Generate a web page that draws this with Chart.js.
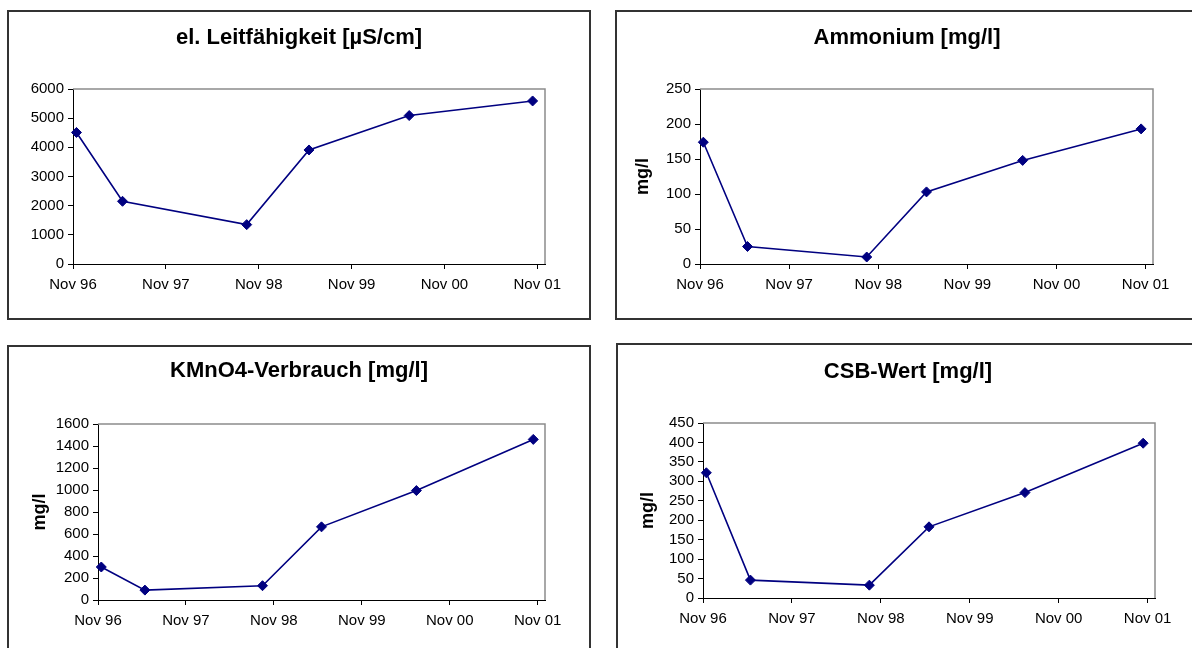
<!DOCTYPE html>
<html>
<head>
<meta charset="utf-8">
<script src="https://cdn.jsdelivr.net/npm/chart.js@4"></script>
<style>
  body { margin: 0; background: #fff; width: 1192px; height: 648px; overflow: hidden; position: relative; }
  .panel { position: absolute; border: 2px solid #333; background: #fff; }
  .panel canvas { display: block; }
</style>
</head>
<body>
<div class="panel" style="left:7px;top:10px;width:580px;height:306px"><canvas id="leitChart" width="580" height="306"></canvas></div>
<div class="panel" style="left:615px;top:10px;width:580px;height:306px"><canvas id="ammChart" width="580" height="306"></canvas></div>
<div class="panel" style="left:7px;top:345px;width:580px;height:310px"><canvas id="kmnChart" width="580" height="310"></canvas></div>
<div class="panel" style="left:616px;top:343px;width:580px;height:310px"><canvas id="csbChart" width="580" height="310"></canvas></div>
<script>
// months since Nov 1996
const sampleMonths = [0.45, 6.4, 22.45, 30.5, 43.45, 59.4];
const yearTicks = [0, 12, 24, 36, 48, 60];
const yearLabels = ['Nov 96', 'Nov 97', 'Nov 98', 'Nov 99', 'Nov 00', 'Nov 01'];

const leitfaehigkeit = [4510, 2150, 1350, 3910, 5090, 5590];
const ammonium = [174, 25, 10, 103, 148, 193];
const kmno4 = [300, 90, 130, 665, 995, 1460];
const csb = [322, 46, 33, 183, 271, 398];

const FONT = 'Arial, "Liberation Sans", sans-serif';
const NAVY = '#000080';

// gray frame on top and right of the plot area (Excel style)
const plotFrame = {
    id: 'plotFrame',
    beforeDatasetsDraw(chart) {
        const { ctx, chartArea: a } = chart;
        ctx.save();
        ctx.strokeStyle = '#8c8c8c';
        ctx.lineWidth = 1.5;
        ctx.beginPath();
        ctx.moveTo(a.left, a.top);
        ctx.lineTo(a.right, a.top);
        ctx.lineTo(a.right, a.bottom);
        ctx.stroke();
        ctx.restore();
    }
};

function makeChart(id, title, values, yMax, yStep, g) {
    const ctx = document.getElementById(id).getContext('2d');
    const h = ctx.canvas.height;
    return new Chart(ctx, {
        type: 'line',
        data: {
            datasets: [{
                data: sampleMonths.map((m, i) => ({ x: m, y: values[i] })),
                borderColor: NAVY, borderWidth: 1.6, tension: 0,
                pointStyle: 'rectRot', pointRadius: 5, pointBackgroundColor: NAVY,
                pointBorderColor: NAVY, pointBorderWidth: 1, clip: false
            }]
        },
        options: {
            responsive: false, animation: false,
            plugins: {
                legend: { display: false }, tooltip: { enabled: false },
                title: {
                    display: true, text: title, color: '#000',
                    font: { family: FONT, size: 22, weight: 'bold' },
                    padding: { top: g.titleTop, bottom: g.top - g.titleTop - 26.4 }
                }
            },
            scales: {
                x: {
                    type: 'linear', min: 0, max: 61,
                    afterBuildTicks: s => { s.ticks = yearTicks.map(v => ({ value: v })); },
                    afterFit: s => { s.height = h - g.bottom; },
                    border: { color: '#000', width: 1 },
                    grid: { drawOnChartArea: false, drawTicks: true, tickLength: 5, color: '#000' },
                    ticks: { color: '#000', font: { family: FONT, size: 15 }, padding: 7, maxRotation: 0,
                             callback: v => yearLabels[yearTicks.indexOf(v)] }
                },
                y: {
                    min: 0, max: yMax,
                    afterFit: s => { s.width = g.left; },
                    border: { color: '#000', width: 1 },
                    grid: { drawOnChartArea: false, drawTicks: true, tickLength: 5, color: '#000' },
                    ticks: { color: '#000', stepSize: yStep, autoSkip: false, font: { family: FONT, size: 15 }, padding: 4,
                             callback: v => String(v) },
                    title: {
                        display: !!g.yTitle, text: 'mg/l', color: '#000',
                        font: { family: FONT, size: 18, weight: 'bold' },
                        padding: { top: g.yTitle ? g.yTitle - 10.8 : 0, bottom: 0 }
                    }
                },
                // empty right axis, only keeps the blank margin right of the plot
                spacer: {
                    position: 'right', axis: 'y',
                    afterFit: s => { s.width = g.right; },
                    grid: { display: false }, ticks: { display: false }, border: { display: false }
                }
            }
        },
        plugins: [plotFrame]
    });
}

makeChart('leitChart', 'el. Leitfähigkeit [µS/cm]', leitfaehigkeit, 6000, 1000, { left: 64, right: 44, top: 77, bottom: 252, titleTop: 13 });
makeChart('ammChart', 'Ammonium [mg/l]', ammonium, 250, 50, { left: 83, right: 44, top: 77, bottom: 252, titleTop: 13, yTitle: 26 });
makeChart('kmnChart', 'KMnO4-Verbrauch [mg/l]', kmno4, 1600, 200, { left: 89, right: 44, top: 77, bottom: 253, titleTop: 11, yTitle: 31 });
makeChart('csbChart', 'CSB-Wert [mg/l]', csb, 450, 50, { left: 85, right: 43, top: 78, bottom: 253, titleTop: 14, yTitle: 30 });
</script>
</body>
</html>
